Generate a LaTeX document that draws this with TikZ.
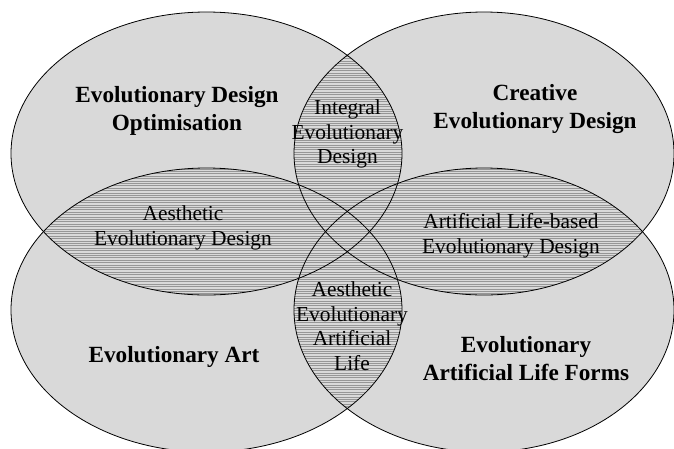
\documentclass[tikz,border=0pt]{standalone}
\usepackage{fontspec}
\setmainfont{Liberation Serif}
\definecolor{vennfill}{RGB}{217,217,217}
\definecolor{hatchcol}{RGB}{150,150,150}
\begin{document}
\begin{tikzpicture}[x=1pt,y=-1pt,
  vennbody/.style={fill=vennfill},
  vennline/.style={draw=black,line width=0.8pt},
  hatchline/.style={draw=hatchcol,line width=1pt},
  boldlabel/.style={align=center,inner sep=0pt,font=\fontsize{23.2}{28}\selectfont\bfseries},
  lenslabel/.style={align=center,inner sep=0pt,font=\fontsize{21.4}{24.5}\selectfont}]
\useasboundingbox (0,0) rectangle (674,448);
\clip (0,0) rectangle (674,448);
\def\ETL{(206.5,153.5) ellipse [x radius=195.5pt, y radius=141.5pt]}
\def\ETR{(484,153.5) ellipse [x radius=190pt, y radius=141.5pt]}
\def\EBL{(206.5,310) ellipse [x radius=195.5pt, y radius=142pt]}
\def\EBR{(484,310) ellipse [x radius=190pt, y radius=142pt]}
\fill[white] (0,0) rectangle (674,448);
\fill[vennbody] \ETL;
\fill[vennbody] \ETR;
\fill[vennbody] \EBL;
\fill[vennbody] \EBR;
\newcommand\hatchpair[2]{%
  \begin{scope}
    \clip #1;
    \clip #2;
    \foreach \yy in {1,3.4,...,448} {\draw[hatchline] (0,\yy) -- (674,\yy);}
  \end{scope}}
\hatchpair{\ETL}{\ETR}
\hatchpair{\ETL}{\EBL}
\hatchpair{\ETR}{\EBR}
\hatchpair{\EBL}{\EBR}
\hatchpair{\ETL}{\EBR}
\hatchpair{\ETR}{\EBL}
\draw[vennline] \ETL;
\draw[vennline] \ETR;
\draw[vennline] \EBL;
\draw[vennline] \EBR;
\node[boldlabel] (edo) at (177,110.6) {Evolutionary Design\\Optimisation};
\node[boldlabel] (ced) at (535,108.6) {Creative\\Evolutionary Design};
\node[boldlabel] (ea) at (174,356.6) {Evolutionary Art};
\node[boldlabel] (ealf) at (526,358.1) {Evolutionary\\Artificial Life Forms};
\node[lenslabel] (ied) at (347.5,134.1) {Integral\\Evolutionary\\Design};
\node[lenslabel] (aed) at (183,228.1) {Aesthetic\\Evolutionary Design};
\node[lenslabel] (albed) at (511,235.6) {Artificial Life-based\\Evolutionary Design};
\node[lenslabel] (aeal) at (352,326.3) {Aesthetic\\Evolutionary\\Artificial\\Life};
\end{tikzpicture}
\end{document}
